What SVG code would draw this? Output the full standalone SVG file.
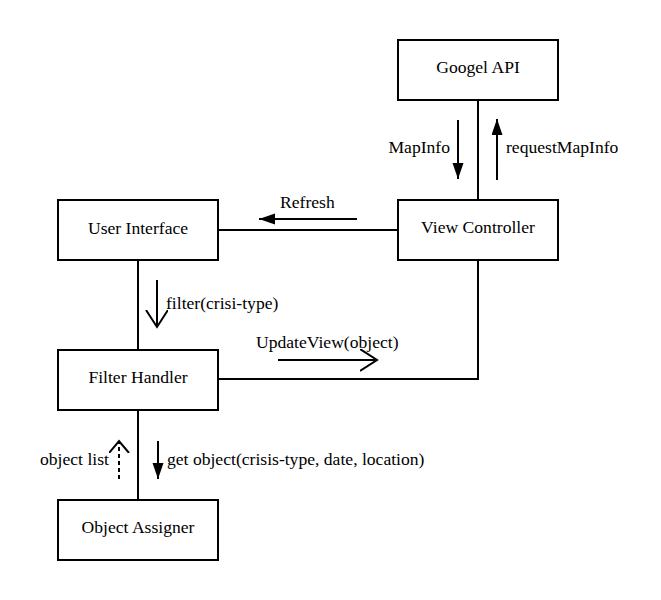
<svg xmlns="http://www.w3.org/2000/svg" width="661" height="600" viewBox="0 0 661 600">
<style>
text{font-family:"Liberation Serif","Times New Roman",serif;font-size:17.6px;fill:#000}
.box rect{fill:#fff;stroke:#000;stroke-width:2}
.box text{text-anchor:middle}
.c line,.c path{stroke:#000;stroke-width:2;fill:none}
.dash{stroke-dasharray:4,3}
</style>
<defs>
<marker id="fill" markerUnits="userSpaceOnUse" markerWidth="18" markerHeight="12" refX="16" refY="5.5" orient="auto">
<path d="M0,0 L16,5.5 L0,11 z" fill="#000"/>
</marker>
<marker id="open" markerUnits="userSpaceOnUse" markerWidth="20" markerHeight="24" refX="17" refY="11" orient="auto">
<path d="M0,0 L17,11 L0,22" fill="none" stroke="#000" stroke-width="2"/>
</marker>
<marker id="open2" markerUnits="userSpaceOnUse" markerWidth="16" markerHeight="24" refX="12" refY="10" orient="auto">
<path d="M0,0 L12,10 L0,20" fill="none" stroke="#000" stroke-width="2"/>
</marker>
</defs>
<rect width="661" height="600" fill="#fff"/>
<g class="c" id="connectors">
<line x1="478" y1="100" x2="478" y2="200"/>
<line x1="218" y1="230" x2="398" y2="230"/>
<line x1="138" y1="260" x2="138" y2="350"/>
<path d="M218,379 H478 V260"/>
<line x1="138" y1="410" x2="138" y2="500"/>
<line x1="458" y1="120" x2="458" y2="179" marker-end="url(#fill)"/>
<line x1="497" y1="180" x2="497" y2="119" marker-end="url(#fill)"/>
<line x1="357" y1="219" x2="259" y2="219" marker-end="url(#fill)"/>
<line x1="157" y1="280" x2="157" y2="327" marker-end="url(#open)"/>
<line x1="278" y1="360" x2="377" y2="360" marker-end="url(#open)"/>
<line x1="158" y1="441" x2="158" y2="479" marker-end="url(#fill)"/>
<line class="dash" x1="119" y1="479" x2="119" y2="441" marker-end="url(#open2)"/>
<text x="450" y="153" text-anchor="end">MapInfo</text>
<text x="506" y="153">requestMapInfo</text>
<text x="280" y="208">Refresh</text>
<text x="166" y="309">filter(crisi-type)</text>
<text x="256" y="348">UpdateView(object)</text>
<text x="40" y="465">object list</text>
<text x="167" y="465">get object(crisis-type, date, location)</text>
</g>
<g class="box" id="googel-api"><rect x="398" y="40" width="160" height="60"/><text x="478" y="73">Googel API</text></g>
<g class="box" id="view-controller"><rect x="398" y="200" width="160" height="60"/><text x="478" y="233">View Controller</text></g>
<g class="box" id="user-interface"><rect x="58" y="200" width="160" height="60"/><text x="138" y="234">User Interface</text></g>
<g class="box" id="filter-handler"><rect x="58" y="350" width="160" height="60"/><text x="138" y="383">Filter Handler</text></g>
<g class="box" id="object-assigner"><rect x="58" y="500" width="160" height="60"/><text x="138" y="533">Object Assigner</text></g>
</svg>
